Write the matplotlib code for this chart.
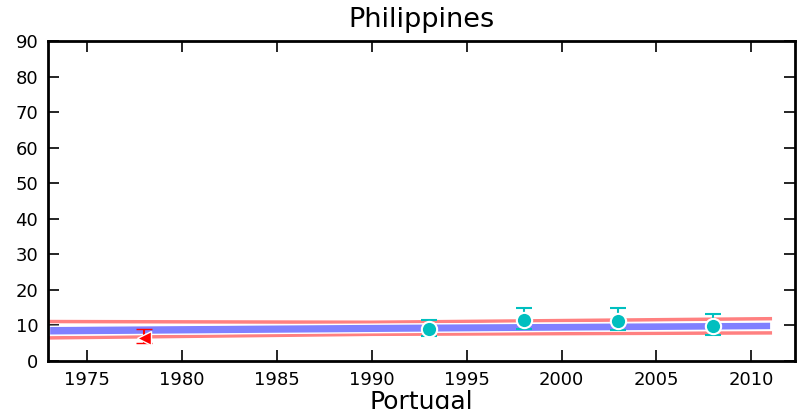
import numpy as np
import matplotlib
matplotlib.use("Agg")
import matplotlib.pyplot as plt

# trend band (blue) and interval lines (red)
band_x = [1973, 1990, 2011]
band_lo = [7.4, 8.1, 8.9]
band_hi = [9.9, 10.5, 11.1]
up_x = [1973, 1990, 2011]
up_y = [11.1, 10.9, 11.9]
lo_x = [1973, 1990, 2011]
lo_y = [6.5, 7.5, 7.9]

# survey points
yrs = [1993, 1998, 2003, 2008]
vals = [9.0, 11.5, 11.3, 9.8]
err_lo = [7.0, 9.0, 8.7, 7.4]
err_hi = [11.6, 14.8, 14.8, 13.2]

# other source point
r_yr = [1978]
r_val = [6.6]
r_lo = [5.1]
r_hi = [9.0]

fig = plt.figure(figsize=(8.03, 4.09), dpi=100)
ax = fig.add_axes([48/803, 48/409, 747/803, 320/409])

ax.fill_between(band_x, band_lo, band_hi, color="#8080ff", edgecolor="white", linewidth=1, zorder=2)
ax.plot(up_x, up_y, color="#ff8080", linewidth=2.5, zorder=1)
ax.plot(lo_x, lo_y, color="#ff8080", linewidth=2.5, zorder=1)

v = np.array(vals)
ax.errorbar(yrs, vals, yerr=[v - np.array(err_lo), np.array(err_hi) - v], fmt="o",
            color="#00bfbf", ecolor="#00bfbf", markersize=11, markeredgecolor="white",
            markeredgewidth=1.5, elinewidth=1.5, capsize=6, capthick=1.5, zorder=4)
rv = np.array(r_val)
ax.errorbar(r_yr, r_val, yerr=[rv - np.array(r_lo), np.array(r_hi) - rv], fmt="<",
            color="red", ecolor="red", markersize=10, markeredgecolor="white",
            markeredgewidth=1, elinewidth=1.5, capsize=6, capthick=1.5, zorder=4)

ax.set_xlim(1972.95, 2012.3)
ax.set_ylim(0, 90)
ax.set_xticks(np.arange(1975, 2011, 5))
ax.set_yticks(np.arange(0, 91, 10))
ax.tick_params(direction="in", length=8, width=1.2, top=True, right=True, labelsize=13, pad=7)
for s in ax.spines.values():
    s.set_linewidth(2)

# title placed by hand, the auto one sits too low with top ticks
fig.text(421.5/803, 1 - 27/409, "Philippines", fontsize=19.5, ha="center", va="baseline")
ax.set_xlabel("Portugal", fontsize=18, labelpad=1)

fig.savefig("out.png", dpi=100)
